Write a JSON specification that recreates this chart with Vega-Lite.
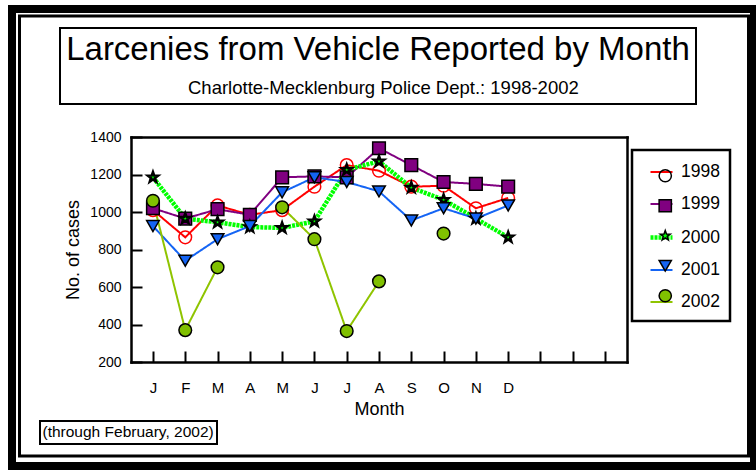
{
  "$schema": "https://vega.github.io/schema/vega-lite/v6.json",
  "autosize": {"type": "none"},
  "width": 742,
  "height": 457,
  "padding": {"left": 12, "top": 9, "right": 2, "bottom": 5},
  "background": "white",
  "config": {
    "font": "Liberation Sans",
    "view": {"stroke": "black", "strokeWidth": 8, "fill": "white"},
    "axis": {"grid": false, "domainColor": "black", "domainWidth": 2.5, "domainCap": "square", "tickColor": "black", "tickWidth": 2, "labelColor": "black", "titleColor": "black", "titleFontWeight": "normal"},
    "legend": {"labelColor": "black", "titleColor": "black"}
  },
  "data": {"values": [
    {"month": 1, "year": "1998", "cases": 1010}, {"month": 2, "year": "1998", "cases": 865}, {"month": 3, "year": "1998", "cases": 1035}, {"month": 4, "year": "1998", "cases": 985}, {"month": 5, "year": "1998", "cases": 1010}, {"month": 6, "year": "1998", "cases": 1135}, {"month": 7, "year": "1998", "cases": 1250}, {"month": 8, "year": "1998", "cases": 1220}, {"month": 9, "year": "1998", "cases": 1135}, {"month": 10, "year": "1998", "cases": 1140}, {"month": 11, "year": "1998", "cases": 1020}, {"month": 12, "year": "1998", "cases": 1075},
    {"month": 1, "year": "1999", "cases": 1020}, {"month": 2, "year": "1999", "cases": 965}, {"month": 3, "year": "1999", "cases": 1015}, {"month": 4, "year": "1999", "cases": 985}, {"month": 5, "year": "1999", "cases": 1185}, {"month": 6, "year": "1999", "cases": 1190}, {"month": 7, "year": "1999", "cases": 1185}, {"month": 8, "year": "1999", "cases": 1340}, {"month": 9, "year": "1999", "cases": 1250}, {"month": 10, "year": "1999", "cases": 1160}, {"month": 11, "year": "1999", "cases": 1150}, {"month": 12, "year": "1999", "cases": 1135},
    {"month": 1, "year": "2000", "cases": 1185}, {"month": 2, "year": "2000", "cases": 965}, {"month": 3, "year": "2000", "cases": 945}, {"month": 4, "year": "2000", "cases": 920}, {"month": 5, "year": "2000", "cases": 915}, {"month": 6, "year": "2000", "cases": 950}, {"month": 7, "year": "2000", "cases": 1225}, {"month": 8, "year": "2000", "cases": 1270}, {"month": 9, "year": "2000", "cases": 1130}, {"month": 10, "year": "2000", "cases": 1065}, {"month": 11, "year": "2000", "cases": 965}, {"month": 12, "year": "2000", "cases": 865},
    {"month": 1, "year": "2001", "cases": 925}, {"month": 2, "year": "2001", "cases": 740}, {"month": 3, "year": "2001", "cases": 855}, {"month": 4, "year": "2001", "cases": 925}, {"month": 5, "year": "2001", "cases": 1105}, {"month": 6, "year": "2001", "cases": 1185}, {"month": 7, "year": "2001", "cases": 1160}, {"month": 8, "year": "2001", "cases": 1110}, {"month": 9, "year": "2001", "cases": 955}, {"month": 10, "year": "2001", "cases": 1020}, {"month": 11, "year": "2001", "cases": 965}, {"month": 12, "year": "2001", "cases": 1035},
    {"month": 1, "year": "2002", "cases": 1060}, {"month": 2, "year": "2002", "cases": 370}, {"month": 3, "year": "2002", "cases": 705}, {"month": 4, "year": "2002", "cases": null}, {"month": 5, "year": "2002", "cases": 1025}, {"month": 6, "year": "2002", "cases": 855}, {"month": 7, "year": "2002", "cases": 365}, {"month": 8, "year": "2002", "cases": 630}, {"month": 9, "year": "2002", "cases": null}, {"month": 10, "year": "2002", "cases": 885}
  ]},
  "resolve": {"axis": {"x": "independent", "y": "independent"}},
  "layer": [
    {
      "mark": {"type": "line", "invalid": "break-paths-filter-domains"},
      "encoding": {
        "x": {"field": "month", "type": "quantitative",
          "scale": {"domain": [0.32, 15.68], "range": [119, 615], "nice": false, "zero": false},
          "axis": {"orient": "bottom", "offset": -104, "values": [1,2,3,4,5,6,7,8,9,10,11,12,13,14,15],
            "labelExpr": "datum.value >= 1 && datum.value <= 12 ? ['J','F','M','A','M','J','J','A','S','O','N','D'][datum.value - 1] : ''",
            "tickSize": -11, "labelPadding": 29, "labelFontSize": 15, "labelFlush": false, "labelOverlap": false,
            "title": "Month", "titleFontSize": 18, "titlePadding": 5}},
        "y": {"field": "cases", "type": "quantitative",
          "scale": {"domain": [200, 1400], "range": [353, 128], "nice": false, "zero": false},
          "axis": {"orient": "left", "offset": -119, "values": [200,400,600,800,1000,1200,1400], "format": "d",
            "tickSize": -11, "labelPadding": 21, "labelFontSize": 14, "labelOverlap": false,
            "title": "No. of cases", "titleFontSize": 18, "titlePadding": 7}},
        "stroke": {"field": "year", "type": "nominal",
          "scale": {"domain": ["1998","1999","2000","2001","2002"], "range": ["#FF0000","#800080","#00FF00","#1464F4","#8FC400"]},
          "legend": {"orient": "none", "legendX": 620, "legendY": 141, "title": null,
            "strokeColor": "black", "padding": 10, "symbolType": "stroke", "symbolSize": 484,
            "symbolOffset": 6, "labelFontSize": 17.5, "labelOffset": 6, "rowPadding": 11,
            "encode": {"legend": {"update": {"strokeWidth": {"value": 2.5}}}}}},
        "strokeWidth": {"field": "year", "type": "nominal",
          "scale": {"type": "ordinal", "domain": ["1998","1999","2000","2001","2002"], "range": [2,2,4.5,2,2]},
          "legend": {}},
        "strokeDash": {"field": "year", "type": "nominal",
          "scale": {"domain": ["1998","1999","2000","2001","2002"], "range": [[1,0],[1,0],[3,1],[1,0],[1,0]]},
          "legend": {}},
        "opacity": {"field": "year", "type": "nominal",
          "scale": {"type": "ordinal", "domain": ["2002","2001","2000","1999","1998"], "range": [1,1,1,1,1]},
          "legend": {"orient": "none", "legendX": 28, "legendY": 412, "title": null, "values": ["2002"],
            "labelExpr": "'(through February, 2002)'", "labelFontSize": 15.5, "labelLimit": 500, "labelOffset": -16,
            "strokeColor": "black", "padding": 3, "symbolSize": 0, "symbolStrokeWidth": 0,
            "encode": {"legend": {"update": {"strokeWidth": {"value": 2}}}}}}
      }
    },
    {
      "mark": {"type": "point", "filled": true, "opacity": 1},
      "encoding": {
        "x": {"field": "month", "type": "quantitative",
          "axis": {"orient": "top", "offset": -128, "labels": false, "ticks": false, "title": null}},
        "y": {"field": "cases", "type": "quantitative",
          "axis": {"orient": "right", "offset": -127, "labels": false, "ticks": false, "title": null}},
        "shape": {"field": "year", "type": "nominal",
          "scale": {"range": ["circle", "square", "M0,-0.85L0.2,-0.275L0.808,-0.263L0.323,0.105L0.5,0.688L0,0.34L-0.5,0.688L-0.323,0.105L-0.808,-0.263L-0.2,-0.275Z", "triangle-down", "circle"]},
          "legend": {"orient": "none", "legendX": 620, "legendY": 148, "title": null, "padding": 10,
            "symbolSize": 150, "symbolOffset": 14.5, "labelFontSize": 17.5, "labelOffset": 6, "rowPadding": 11,
            "labelExpr": "''",
            "encode": {"symbols": {"update": {
              "stroke": {"signal": "datum.value === '1998' ? '#FF0000' : 'black'"},
              "strokeWidth": {"signal": "datum.value === '2000' ? 2.5 : datum.value === '1998' ? 2 : 1.5"}}}}}},
        "fill": {"field": "year", "type": "nominal",
          "scale": {"range": ["transparent", "#800080", "#00FF00", "#1464F4", "#80C000"]},
          "legend": {"orient": "none", "legendX": 620, "legendY": 148, "title": null, "padding": 10,
            "symbolSize": 150, "symbolOffset": 14.5, "labelFontSize": 17.5, "labelOffset": 6, "rowPadding": 11,
            "labelExpr": "''",
            "encode": {"symbols": {"update": {
              "stroke": {"signal": "datum.value === '1998' ? '#FF0000' : 'black'"},
              "strokeWidth": {"signal": "datum.value === '2000' ? 2.5 : datum.value === '1998' ? 2 : 1.5"}}}}}},
        "stroke": {"condition": {"test": "datum.year === '1998'", "value": "#FF0000"}, "value": "black"},
        "strokeWidth": {"condition": {"test": "datum.year === '2000'", "value": 2.5}, "value": 1.5},
        "size": {"field": "year", "type": "nominal",
          "scale": {"type": "ordinal", "domain": ["1999","2002","2001","2000","1998"], "range": [160,160,160,160,160]},
          "legend": {"orient": "none", "legendX": 48, "legendY": 19,
            "title": "Larcenies from Vehicle Reported by Month", "titleFontSize": 33, "titleFontWeight": "normal",
            "titleLimit": 1000, "titleAnchor": "middle", "titlePadding": 12,
            "values": ["1998"], "labelExpr": "'Charlotte-Mecklenburg Police Dept.: 1998-2002'",
            "labelFontSize": 18.5, "labelLimit": 1000, "labelOffset": -8.5,
            "symbolOpacity": 0, "symbolFillColor": "transparent", "symbolStrokeColor": "transparent",
            "strokeColor": "black", "padding": 6,
            "encode": {"legend": {"update": {"strokeWidth": {"value": 2}}}}}}
      }
    },
    {
      "mark": {"type": "point", "opacity": 0},
      "encoding": {
        "color": {"field": "cases", "type": "quantitative",
          "scale": {"range": ["white", "white"]},
          "legend": {"orient": "none", "legendX": 7.5, "legendY": 7, "title": null, "direction": "horizontal",
            "gradientLength": 729, "gradientThickness": 439, "gradientOpacity": 0, "gradientStrokeWidth": 0,
            "labelExpr": "''", "labelFontSize": 1, "labelOffset": 0, "labelOpacity": 0, "padding": 0,
            "strokeColor": "black",
            "encode": {"legend": {"update": {"strokeWidth": {"value": 3}}}}}}
      }
    }
  ]
}
